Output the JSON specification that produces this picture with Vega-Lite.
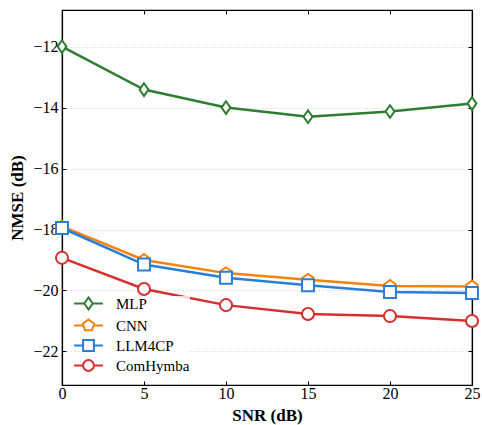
{
  "$schema": "https://vega.github.io/schema/vega-lite/v6.json",
  "autosize": "none",
  "padding": {"left": 62, "top": 10, "right": 10, "bottom": 40},
  "width": 410,
  "height": 375,
  "background": "white",
  "config": {
    "font": "Liberation Serif",
    "view": {"stroke": "black", "strokeWidth": 1.2},
    "axis": {"labelFont": "Liberation Serif", "titleFont": "Liberation Serif", "labelColor": "black", "titleColor": "black", "domainColor": "black", "tickColor": "black"}
  },
  "data": {"values": [
    {"snr": 0, "nmse": -12.0, "model": "MLP"},
    {"snr": 5, "nmse": -13.41, "model": "MLP"},
    {"snr": 10, "nmse": -14.0, "model": "MLP"},
    {"snr": 15, "nmse": -14.3, "model": "MLP"},
    {"snr": 20, "nmse": -14.13, "model": "MLP"},
    {"snr": 25, "nmse": -13.87, "model": "MLP"},
    {"snr": 0, "nmse": -17.9, "model": "CNN"},
    {"snr": 5, "nmse": -19.0, "model": "CNN"},
    {"snr": 10, "nmse": -19.43, "model": "CNN"},
    {"snr": 15, "nmse": -19.65, "model": "CNN"},
    {"snr": 20, "nmse": -19.85, "model": "CNN"},
    {"snr": 25, "nmse": -19.87, "model": "CNN"},
    {"snr": 0, "nmse": -17.95, "model": "LLM4CP"},
    {"snr": 5, "nmse": -19.15, "model": "LLM4CP"},
    {"snr": 10, "nmse": -19.58, "model": "LLM4CP"},
    {"snr": 15, "nmse": -19.83, "model": "LLM4CP"},
    {"snr": 20, "nmse": -20.05, "model": "LLM4CP"},
    {"snr": 25, "nmse": -20.08, "model": "LLM4CP"},
    {"snr": 0, "nmse": -18.93, "model": "ComHymba"},
    {"snr": 5, "nmse": -19.95, "model": "ComHymba"},
    {"snr": 10, "nmse": -20.48, "model": "ComHymba"},
    {"snr": 15, "nmse": -20.77, "model": "ComHymba"},
    {"snr": 20, "nmse": -20.84, "model": "ComHymba"},
    {"snr": 25, "nmse": -21.0, "model": "ComHymba"}
  ]},
  "resolve": {"axis": {"x": "independent", "y": "independent"}},
  "layer": [
    {"mark": {"type": "line", "strokeWidth": 2.5},
      "encoding": {
        "x": {"field": "snr", "type": "quantitative", "scale": {"domain": [0, 25], "nice": false},
          "axis": {"title": "SNR (dB)", "titleFont": "Liberation Serif", "titleFontSize": 17, "titleFontWeight": "bold", "labelFont": "Liberation Serif", "labelFontSize": 16, "labelFlush": false, "values": [0, 5, 10, 15, 20, 25], "grid": false, "tickSize": -4, "labelPadding": 4, "titlePadding": 6, "domainWidth": 1.2}},
        "y": {"field": "nmse", "type": "quantitative", "scale": {"domain": [-23.1, -10.8], "nice": false, "zero": false},
          "axis": {"title": "NMSE (dB)", "titleFont": "Liberation Serif", "titleFontSize": 17, "titleFontWeight": "bold", "labelFont": "Liberation Serif", "labelFontSize": 16, "labelFlush": false, "values": [-22, -20, -18, -16, -14, -12], "grid": true, "gridColor": "#d8d8d8", "gridDash": [2, 2], "gridWidth": 0.8, "tickSize": -4, "labelPadding": 8, "titlePadding": 6, "domainWidth": 1.2, "labelExpr": "replace(datum.label, '-', '\u2212')"}},
        "color": {"field": "model", "type": "nominal", "sort": ["MLP", "CNN", "LLM4CP", "ComHymba"],
          "scale": {"domain": ["MLP", "CNN", "LLM4CP", "ComHymba"], "range": ["#2e7d32", "#f5820d", "#2a7fd4", "#d62f2f"]},
          "legend": {"title": null, "orient": "none", "legendX": 19, "legendY": 286, "labelFont": "Liberation Serif", "labelFontSize": 15, "labelColor": "black", "symbolSize": 144, "symbolStrokeWidth": 2, "symbolFillColor": "white", "labelOffset": 20, "rowPadding": 1, "fillColor": "rgba(255,255,255,0.8)",
            "encode": {"symbols": {"update": {"shape": {"signal": "datum.value === 'MLP' ? 'M-2.4,0H-0.7M0.7,0H2.4M0,-1L0.7,0L0,1L-0.7,0Z' : datum.value === 'CNN' ? 'M-2.4,0H-0.95M0.95,0H2.4M0,-1L0.951,-0.309L0.588,0.809L-0.588,0.809L-0.951,-0.309Z' : datum.value === 'LLM4CP' ? 'M-2.4,0H-0.9M0.9,0H2.4M-0.9,-0.9H0.9V0.9H-0.9Z' : 'M-2.4,0H-0.9M0.9,0H2.4M-0.9,0A0.9,0.9,0,1,0,0.9,0A0.9,0.9,0,1,0,-0.9,0Z'"}, "fill": {"value": "white"}, "strokeWidth": {"value": 2}}}}}}
      }
    },
    {"transform": [{"filter": "datum.model === 'MLP'"}],
      "mark": {"type": "point", "shape": "M0,-1L0.7,0L0,1L-0.7,0Z", "color": "#2e7d32", "filled": false, "fill": "white", "fillOpacity": 1, "opacity": 1, "strokeWidth": 2, "size": 160},
      "encoding": {
        "x": {"field": "snr", "type": "quantitative", "axis": {"orient": "top", "title": null, "labels": false, "values": [0, 5, 10, 15, 20, 25], "grid": false, "tickSize": -4, "domainWidth": 1.2}},
        "y": {"field": "nmse", "type": "quantitative", "axis": {"orient": "right", "title": null, "labels": false, "values": [-22, -20, -18, -16, -14, -12], "grid": false, "tickSize": -4, "domainWidth": 1.2}}
      }
    },
    {"transform": [{"filter": "datum.model === 'CNN'"}],
      "mark": {"type": "point", "shape": "M0,-1L0.951,-0.309L0.588,0.809L-0.588,0.809L-0.951,-0.309Z", "color": "#f5820d", "filled": false, "fill": "white", "fillOpacity": 1, "opacity": 1, "strokeWidth": 2, "size": 140},
      "encoding": {
        "x": {"field": "snr", "type": "quantitative", "axis": null},
        "y": {"field": "nmse", "type": "quantitative", "axis": null}
      }
    },
    {"transform": [{"filter": "datum.model === 'LLM4CP'"}],
      "mark": {"type": "point", "shape": "M-0.9,-0.9H0.9V0.9H-0.9Z", "color": "#2a7fd4", "filled": false, "fill": "white", "fillOpacity": 1, "opacity": 1, "strokeWidth": 2, "size": 175},
      "encoding": {
        "x": {"field": "snr", "type": "quantitative", "axis": null},
        "y": {"field": "nmse", "type": "quantitative", "axis": null}
      }
    },
    {"transform": [{"filter": "datum.model === 'ComHymba'"}],
      "mark": {"type": "point", "shape": "circle", "color": "#d62f2f", "filled": false, "fill": "white", "fillOpacity": 1, "opacity": 1, "strokeWidth": 2, "size": 145},
      "encoding": {
        "x": {"field": "snr", "type": "quantitative", "axis": null},
        "y": {"field": "nmse", "type": "quantitative", "axis": null}
      }
    }
  ]
}
